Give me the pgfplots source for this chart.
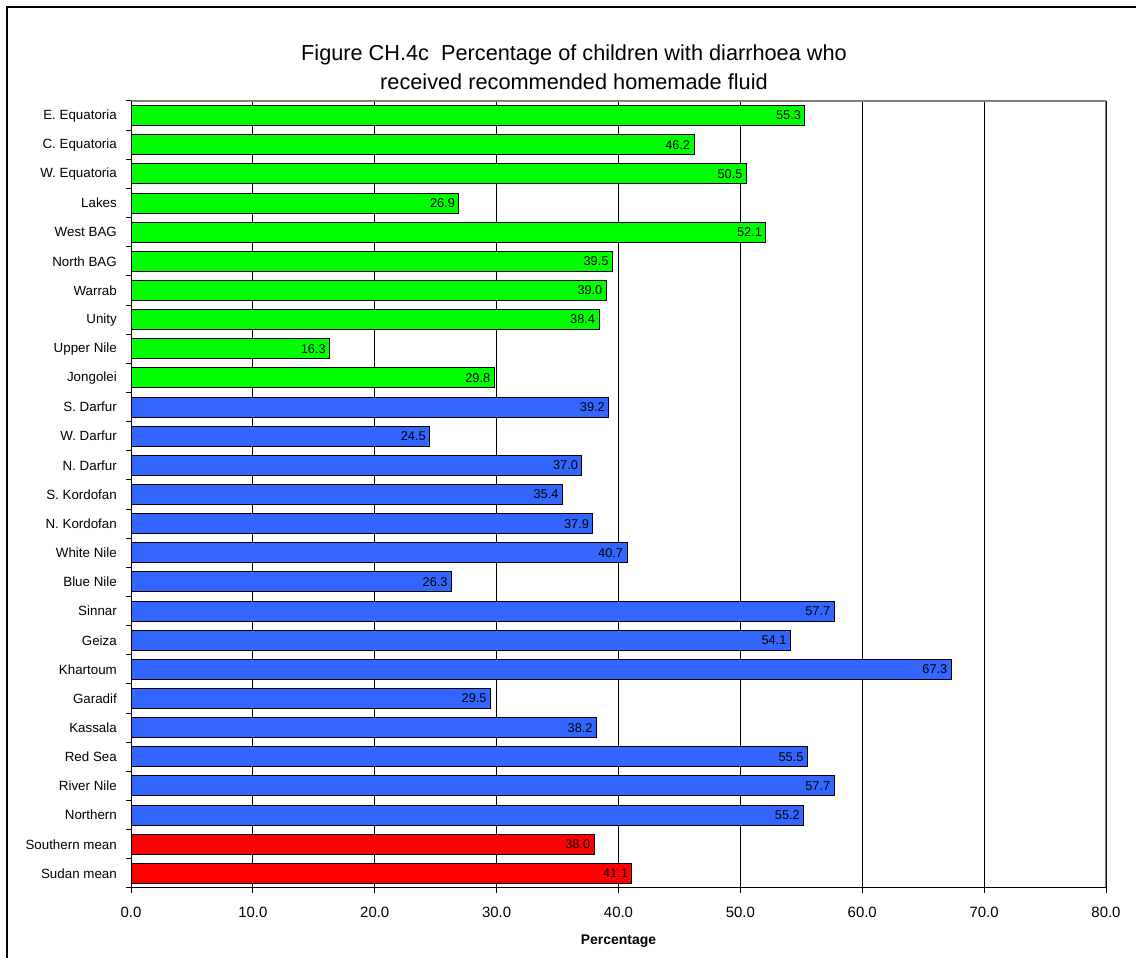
\documentclass[border=0pt]{standalone}
\usepackage{pgfplots}
\pgfplotsset{compat=1.18}
\usepackage{fontspec}
\setmainfont{Liberation Sans}
\definecolor{bgreen}{RGB}{0,255,0}
\definecolor{bblue}{RGB}{51,102,255}
\definecolor{bred}{RGB}{255,0,0}
\definecolor{bordergray}{RGB}{128,128,128}
\begin{document}
\begin{tikzpicture}[x=1bp,y=1bp]
\useasboundingbox (0,0) rectangle (1136,958);
\draw[line width=2bp] (7,0) -- (7,951) -- (1136,951);
\node[anchor=base, font=\fontsize{21.8}{26}\selectfont] at (574,897) {Figure CH.4c\ \ Percentage of children with diarrhoea who};
\node[anchor=base, font=\fontsize{21.8}{26}\selectfont] at (574,868) {received recommended homemade fluid};
\begin{axis}[
  at={(131bp,70bp)}, anchor=south west,
  scale only axis, width=975bp, height=787bp,
  xbar, bar width=20bp, bar shift=0pt,
  xmin=0, xmax=80, ymin=-0.5, ymax=26.5,
  axis line style={draw=none},
  xtick pos=bottom, ytick pos=left,
  tick align=outside, major tick length=0pt, minor tick length=5bp,
  tick style={black, line width=1bp},
  xtick={0,10,...,80},
  minor xtick={0,10,...,80},
  xmajorgrids, major grid style={black, line width=0.8bp},
  /pgf/number format/assume math mode=true,
  xticklabel style={font=\fontsize{15}{18}\selectfont, yshift=-16bp, /pgf/number format/fixed, /pgf/number format/fixed zerofill, /pgf/number format/precision=1},
  ytick={0,1,...,26},
  minor ytick={-0.5,0.5,...,26.5},
  yticklabels={Sudan mean, Southern mean, Northern, River Nile, Red Sea, Kassala, Garadif, Khartoum, Geiza, Sinnar, Blue Nile, White Nile, N. Kordofan, S. Kordofan, N. Darfur, W. Darfur, S. Darfur, Jongolei, Upper Nile, Unity, Warrab, North BAG, West BAG, Lakes, W. Equatoria, C. Equatoria, E. Equatoria},
  yticklabel style={font=\fontsize{13.4}{15}\selectfont, inner sep=0pt, xshift=-14bp},
  xlabel={\textbf{Percentage}},
  xlabel style={at={(axis description cs:0.5,0)}, anchor=base, yshift=-57bp, font=\fontsize{14}{16}\selectfont},
  point meta=x,
  nodes near coords={\makebox[0pt][r]{\pgfmathprintnumber[fixed,fixed zerofill,precision=1]{\pgfplotspointmeta}}},
  every node near coord/.append style={font=\fontsize{12.8}{14}\selectfont, inner sep=0pt, xshift=-5bp, black},
]
\addplot[draw=black, line width=1bp, fill=bred] coordinates {
  (41.1,0) (38.0,1)
};
\addplot[draw=black, line width=1bp, fill=bblue] coordinates {
  (55.2,2) (57.7,3) (55.5,4) (38.2,5) (29.5,6) (67.3,7) (54.1,8) (57.7,9)
  (26.3,10) (40.7,11) (37.9,12) (35.4,13) (37.0,14) (24.5,15) (39.2,16)
};
\addplot[draw=black, line width=1bp, fill=bgreen] coordinates {
  (29.8,17) (16.3,18) (38.4,19) (39.0,20) (39.5,21) (52.1,22) (26.9,23)
  (50.5,24) (46.2,25) (55.3,26)
};
\draw[bordergray, line width=1.5bp] (rel axis cs:0,1) -- (rel axis cs:1,1) -- (rel axis cs:1,0);
\draw[black, line width=1.2bp] (rel axis cs:0,1) -- (rel axis cs:0,0) -- (rel axis cs:1,0);
\end{axis}
\end{tikzpicture}
\end{document}
